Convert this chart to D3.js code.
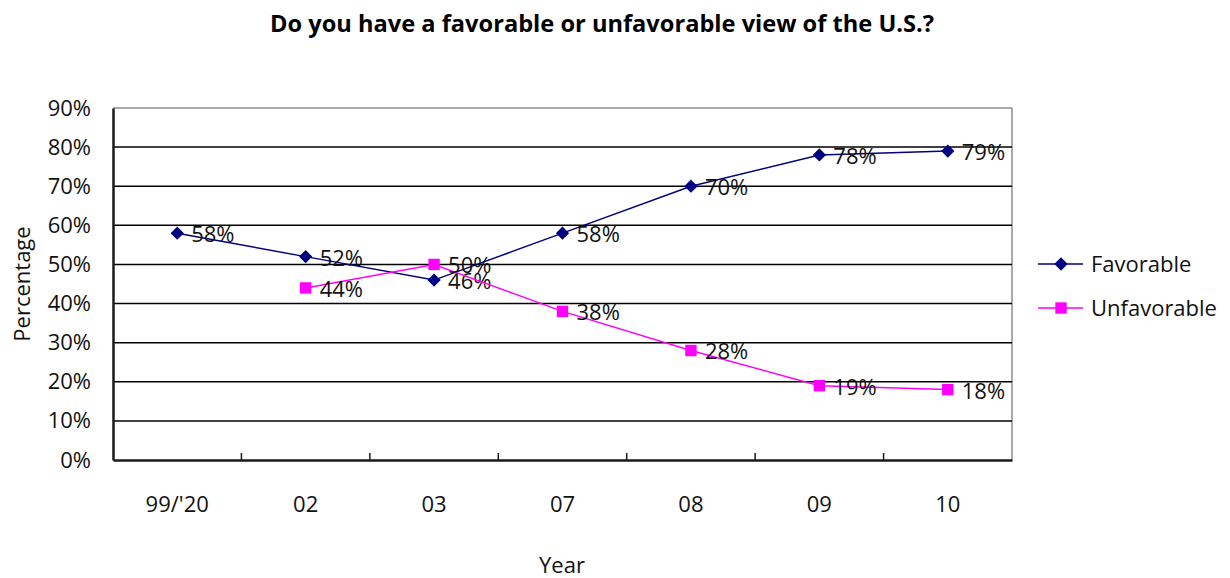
<!DOCTYPE html>
<html>
<head>
<meta charset="utf-8">
<script src="https://cdn.jsdelivr.net/npm/d3@7"></script>
<style>
  html, body { margin: 0; padding: 0; background: #fff; }
  svg { display: block; font-family: "Open Sans", "DejaVu Sans", sans-serif; }
</style>
</head>
<body>
<svg id="chart" width="1230" height="578"></svg>
<script>
// Survey years and responses (percent)
const years = ["99/'20", "02", "03", "07", "08", "09", "10"];
const favorable = [58, 52, 46, 58, 70, 78, 79];
const unfavorable = [null, 44, 50, 38, 28, 19, 18];
const yTicks = [0, 10, 20, 30, 40, 50, 60, 70, 80, 90];

const series = [
  { name: "Favorable", values: favorable, color: "#000080", symbol: d3.symbolSquare, size: 88, rot: 45 },
  { name: "Unfavorable", values: unfavorable, color: "#FF00FF", symbol: d3.symbolSquare, size: 130, rot: 0 }
];

const svg = d3.select("#chart");
const plot = { left: 113, right: 1012, top: 108, bottom: 460 };

const x = d3.scaleBand().domain(years).range([plot.left, plot.right]);
const y = d3.scaleLinear().domain([0, 90]).range([plot.bottom, plot.top]);
const cx = d => x(d) + x.bandwidth() / 2;

// Title
svg.append("text")
  .attr("x", 602).attr("y", 32)
  .attr("text-anchor", "middle")
  .attr("font-size", 24).attr("font-weight", 700)
  .attr("textLength", 664).attr("lengthAdjust", "spacingAndGlyphs")
  .text("Do you have a favorable or unfavorable view of the U.S.?");

// Plot frame (top and right edges)
svg.append("line").attr("x1", plot.left).attr("x2", plot.right)
  .attr("y1", plot.top).attr("y2", plot.top)
  .attr("stroke", "#8c8c8c").attr("stroke-width", 1.5);
svg.append("line").attr("x1", plot.right).attr("x2", plot.right)
  .attr("y1", plot.top).attr("y2", plot.bottom)
  .attr("stroke", "#8c8c8c").attr("stroke-width", 1.5);

// Horizontal gridlines
svg.append("g").selectAll("line")
  .data(yTicks.filter(t => t > 0 && t < 90))
  .join("line")
  .attr("x1", plot.left).attr("x2", plot.right)
  .attr("y1", d => y(d)).attr("y2", d => y(d))
  .attr("stroke", "#000").attr("stroke-width", 1.5);

// Y axis
const yAxis = svg.append("g")
  .attr("transform", `translate(${plot.left},0)`)
  .call(d3.axisLeft(y).tickValues(yTicks).tickFormat(d => d + "%").tickSize(0).tickPadding(22));
yAxis.select(".domain").attr("stroke", "#1a1a1a").attr("stroke-width", 2.5);
yAxis.selectAll("text").attr("font-size", 22).attr("fill", "#111")
  .attr("font-family", "'Open Sans', sans-serif");

// X axis with ticks between categories, pointing up
const xAxis = svg.append("g")
  .attr("transform", `translate(0,${plot.bottom})`)
  .call(d3.axisBottom(x).tickSize(0).tickPadding(36));
xAxis.select(".domain").attr("stroke", "#1a1a1a").attr("stroke-width", 2.5);
xAxis.selectAll("text").attr("font-size", 22).attr("fill", "#111")
  .attr("font-family", "'Open Sans', sans-serif");
svg.append("g").selectAll("line")
  .data(years.slice(1))
  .join("line")
  .attr("x1", d => x(d)).attr("x2", d => x(d))
  .attr("y1", plot.bottom).attr("y2", plot.bottom - 7)
  .attr("stroke", "#1a1a1a").attr("stroke-width", 1.5);

// Axis titles
svg.append("text")
  .attr("x", 562).attr("y", 573)
  .attr("text-anchor", "middle").attr("font-size", 22).attr("fill", "#111")
  .text("Year");
svg.append("text")
  .attr("transform", "translate(30,284) rotate(-90)")
  .attr("text-anchor", "middle").attr("font-size", 22).attr("fill", "#111")
  .text("Percentage");

// Series lines, markers and value labels
const line = d3.line()
  .defined(d => d.v != null)
  .x(d => cx(d.year)).y(d => y(d.v));

series.forEach(s => {
  const pts = years.map((yr, i) => ({ year: yr, v: s.values[i] }));
  const g = svg.append("g");
  g.append("path").datum(pts)
    .attr("d", line).attr("fill", "none")
    .attr("stroke", s.color).attr("stroke-width", 1.5);
  const valid = pts.filter(d => d.v != null);
  g.selectAll("path.m").data(valid).join("path")
    .attr("class", "m")
    .attr("d", d3.symbol(s.symbol, s.size))
    .attr("transform", d => `translate(${cx(d.year)},${y(d.v)}) rotate(${s.rot})`)
    .attr("fill", s.color);
  g.selectAll("text").data(valid).join("text")
    .attr("x", d => cx(d.year) + 14)
    .attr("y", d => y(d.v) + 9)
    .attr("font-size", 22).attr("fill", "#111")
    .text(d => d.v + "%");
});

// Legend
const legend = svg.append("g");
series.forEach((s, i) => {
  const ly = 264 + i * 44;
  legend.append("line")
    .attr("x1", 1038).attr("x2", 1083).attr("y1", ly).attr("y2", ly)
    .attr("stroke", s.color).attr("stroke-width", 1.5);
  legend.append("path")
    .attr("d", d3.symbol(s.symbol, s.size))
    .attr("transform", `translate(1061,${ly}) rotate(${s.rot})`)
    .attr("fill", s.color);
  legend.append("text")
    .attr("x", 1091).attr("y", ly + 8)
    .attr("font-size", 22).attr("fill", "#111")
    .text(s.name);
});
</script>
</body>
</html>
